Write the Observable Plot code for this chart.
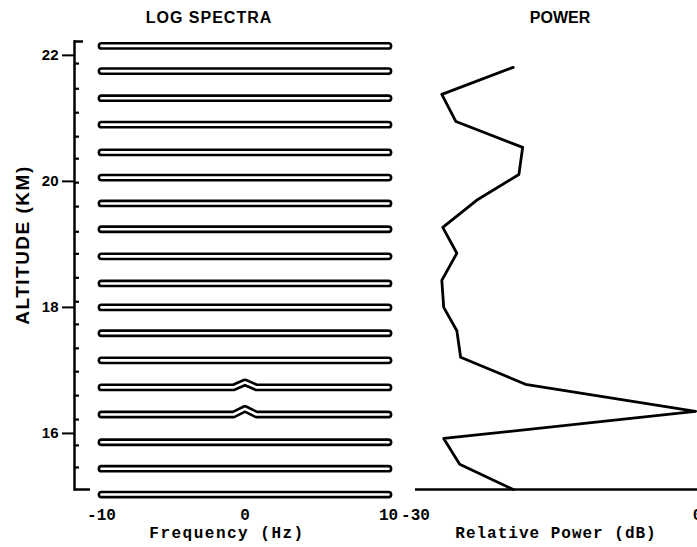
<!DOCTYPE html>
<html>
<head>
<meta charset="utf-8">
<script src="https://cdn.jsdelivr.net/npm/d3@7"></script>
<script src="https://cdn.jsdelivr.net/npm/@observablehq/plot@0.6"></script>
<style>
  html, body { margin: 0; padding: 0; background: #fff; overflow: hidden; }
  #root { position: relative; width: 697px; height: 547px; overflow: hidden; background: #fff; }
  #root svg { position: absolute; left: 0; top: 0; }
  .lbl { position: absolute; white-space: nowrap; line-height: 1; color: #000; }
  .sans { font-family: "Liberation Sans", Arial, sans-serif; font-weight: bold; }
  .mono { font-family: "Liberation Mono", "DejaVu Sans Mono", monospace; font-weight: bold; }
</style>
</head>
<body>
<div id="root"></div>
<script>
// ---- data ----
const spectraAltitudeKm = [22.15, 21.75, 21.32, 20.90, 20.46, 20.06, 19.65, 19.24, 18.81,
                           18.38, 18.00, 17.59, 17.16, 16.73, 16.30, 15.86, 15.44, 15.03];
const spectrumFreqHz = [-10, -0.8, 0, 0.8, 10];
// peak of each log spectrum at 0 Hz (relative log units)
const spectraPeak = [0, 0, 0, 0, 0, 0, 0, 0, 0, 0, 0, 0, 0, 3.2, 3.6, 0, 0, 0];

const powerAltitudeKm = [21.81, 21.38, 20.95, 20.54, 20.11, 19.70, 19.27, 18.86, 18.43,
                         18.00, 17.63, 17.21, 16.78, 16.35, 15.92, 15.51, 15.11];
const powerDb = [-19.6, -27.2, -25.7, -18.6, -19.0, -23.5, -27.1, -25.6, -27.2,
                 -27.0, -25.6, -25.2, -18.3, -0.2, -27.0, -25.3, -19.6];

const altitudeTicks = [16, 18, 20, 22];
const altitudeMinorTicks = [15.46, 15.81, 16.22, 16.60, 16.98, 17.35, 17.73, 18.09, 18.47,
                            18.85, 19.20, 19.60, 19.98, 20.36, 20.71, 21.09, 21.47, 21.87];
const altitudeDomain = [15.11, 22.22];
const freqTicks = [-10, 0, 10];
const powerTicks = [-30, 0];

// ---- build tables ----
const kmPerLogUnit = 0.025;
const spectraRows = [];
spectraAltitudeKm.forEach((alt, i) => {
  spectrumFreqHz.forEach(f => {
    spectraRows.push({id: i, f, v: alt + (f === 0 ? spectraPeak[i] * kmPerLogUnit : 0)});
  });
});
const powerRows = powerDb.map((db, i) => ({db, alt: powerAltitudeKm[i]}));

const svgStyle = {background: "transparent", overflow: "visible", maxWidth: "none"};
const monoFont = "Liberation Mono, DejaVu Sans Mono, monospace";
const sansFont = "Liberation Sans, Arial, sans-serif";

// left panel: the frame is only the narrow strip of the altitude axis (74..90),
// the frequency scale has its own explicit range.
const left = Plot.plot({
  width: 697, height: 547,
  marginLeft: 74, marginRight: 607, marginTop: 41, marginBottom: 58,
  style: svgStyle,
  x: {domain: [-10, 10], range: [101, 388]},
  y: {domain: altitudeDomain},
  marks: [
    Plot.frame({anchor: "left", stroke: "black", strokeWidth: 2.5}),
    Plot.axisY({ticks: altitudeTicks, tickSize: 12, tickPadding: 4, tickFormat: d => String(d),
                fontSize: 15, fontWeight: "bold", fontFamily: sansFont, strokeWidth: 2, label: null}),
    Plot.ruleY(altitudeMinorTicks, {stroke: "black", strokeWidth: 2.2, insetRight: 11}),
    Plot.ruleY([altitudeDomain[1]], {stroke: "black", strokeWidth: 2.5, insetRight: 7}),
    Plot.ruleY([altitudeDomain[0]], {stroke: "black", strokeWidth: 2.5}),
    Plot.line(spectraRows, {x: "f", y: "v", z: "id", stroke: "black", strokeWidth: 7.8,
                            strokeLinecap: "round", strokeLinejoin: "round"}),
    Plot.line(spectraRows, {x: "f", y: "v", z: "id", stroke: "white", strokeWidth: 2.6,
                            strokeLinecap: "round", strokeLinejoin: "round"}),
    Plot.axisX({ticks: freqTicks, tickSize: 0, tickPadding: 19, tickFormat: d => String(d),
                fontSize: 16, fontWeight: "bold", fontFamily: monoFont, label: null})
  ]
});

const right = Plot.plot({
  width: 720, height: 547,
  marginLeft: 415, marginRight: 23, marginTop: 41, marginBottom: 58,
  style: svgStyle,
  x: {domain: [-30, 0]},
  y: {domain: altitudeDomain, axis: null},
  marks: [
    Plot.ruleY([altitudeDomain[0]], {stroke: "black", strokeWidth: 2.5}),
    Plot.line(powerRows, {x: "db", y: "alt", stroke: "black", strokeWidth: 2.8, strokeLinejoin: "round"}),
    Plot.axisX({ticks: powerTicks, tickSize: 0, tickPadding: 19, tickFormat: d => String(d),
                fontSize: 16, fontWeight: "bold", fontFamily: monoFont, label: null})
  ]
});

const root = document.getElementById("root");
root.appendChild(left);
root.appendChild(right);

function addLabel(text, cls, css) {
  const d = document.createElement("div");
  d.className = "lbl " + cls;
  d.textContent = text;
  Object.assign(d.style, css);
  root.appendChild(d);
}
addLabel("LOG SPECTRA", "sans", {left: "209px", top: "10px", fontSize: "16px", letterSpacing: "1px", transform: "translateX(-50%)"});
addLabel("POWER", "sans", {left: "560px", top: "10px", fontSize: "16px", letterSpacing: "0px", transform: "translateX(-50%)"});
addLabel("ALTITUDE (KM)", "sans", {left: "22px", top: "245px", fontSize: "19px", letterSpacing: "1.5px", transform: "translate(-50%,-50%) rotate(-90deg)"});
addLabel("Frequency (Hz)", "mono", {left: "227px", top: "526px", fontSize: "16px", letterSpacing: "1.5px", transform: "translateX(-50%)"});
addLabel("Relative Power (dB)", "mono", {left: "556px", top: "526px", fontSize: "16px", letterSpacing: "1px", transform: "translateX(-50%)"});
</script>
</body>
</html>
